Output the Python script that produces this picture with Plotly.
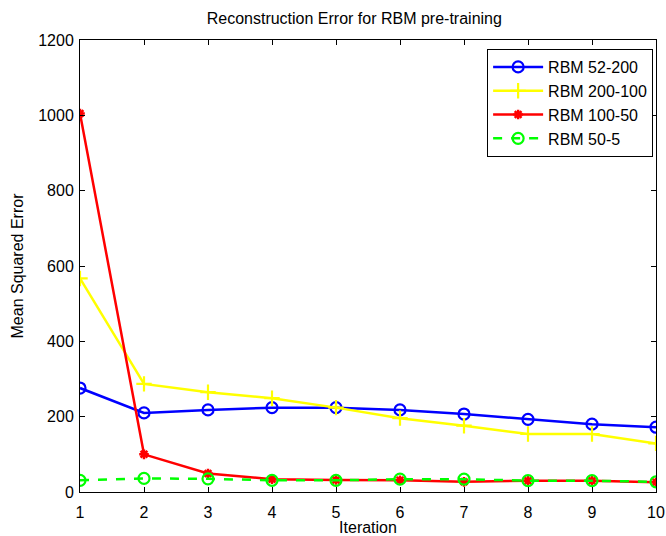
import plotly.graph_objects as go

iterations = [1, 2, 3, 4, 5, 6, 7, 8, 9, 10]
rbm_52_200 = [276, 210, 218, 224, 224, 218, 207, 193, 180, 172]
rbm_200_100 = [567, 287, 265, 249, 224, 196, 176, 154, 154, 129]
rbm_100_50 = [1005, 100, 49, 34, 32, 31, 27, 30, 30, 26]
rbm_50_5 = [31, 36, 35, 31, 31, 34, 34, 30, 30, 27]
y_ticks = [0, 200, 400, 600, 800, 1000, 1200]

fig = go.Figure()
fig.add_trace(go.Scatter(x=iterations, y=rbm_52_200, name="RBM 52-200", mode="lines+markers",
                         line=dict(color="#0000ff", width=2.5),
                         marker=dict(symbol="circle-open", size=11, line=dict(width=2.2, color="#0000ff"))))
fig.add_trace(go.Scatter(x=iterations, y=rbm_200_100, name="RBM 200-100", mode="lines+markers",
                         line=dict(color="#ffff00", width=2.5),
                         marker=dict(symbol="cross-thin-open", size=11, line=dict(width=2.2, color="#ffff00"))))
fig.add_trace(go.Scatter(x=iterations, y=rbm_100_50, name="RBM 100-50", mode="lines+markers",
                         line=dict(color="#ff0000", width=2.5),
                         marker=dict(symbol="asterisk-open", size=8, line=dict(width=2.5, color="#ff0000"))))
fig.add_trace(go.Scatter(x=iterations, y=rbm_50_5, name="RBM 50-5", mode="lines+markers",
                         line=dict(color="#00ff00", width=2.5, dash="dash"),
                         marker=dict(symbol="circle-open", size=11, line=dict(width=2.2, color="#00ff00"))))

axis_common = dict(showline=True, linecolor="black", linewidth=1, mirror="ticks", ticks="inside",
                   ticklen=5, tickcolor="black", showgrid=False, zeroline=False, automargin=False,
                   tickfont=dict(size=16, color="black"))

fig.update_layout(
    width=666, height=536,
    margin=dict(l=80, r=10, t=40, b=44),
    paper_bgcolor="white", plot_bgcolor="white",
    font=dict(family="Liberation Sans, Arial, sans-serif", color="black"),
    title=dict(text="Reconstruction Error for RBM pre-training", x=0.532, xanchor="center",
               y=0.966, yanchor="middle", font=dict(size=16, color="black")),
    xaxis=dict(range=[1, 10], tickmode="array", tickvals=iterations, ticklabelstandoff=6,
               title=dict(text="Iteration", font=dict(size=16), standoff=6), **axis_common),
    yaxis=dict(range=[0, 1200], tickmode="array", tickvals=y_ticks, ticklabelstandoff=2,
               title=dict(text="Mean Squared Error", font=dict(size=16), standoff=10), **axis_common),
    legend=dict(x=0.995, y=0.98, xanchor="right", yanchor="top", bgcolor="white",
                bordercolor="black", borderwidth=1, font=dict(size=16),
                itemwidth=50, tracegroupgap=0),
    showlegend=True,
)

fig.write_html("out.html")
